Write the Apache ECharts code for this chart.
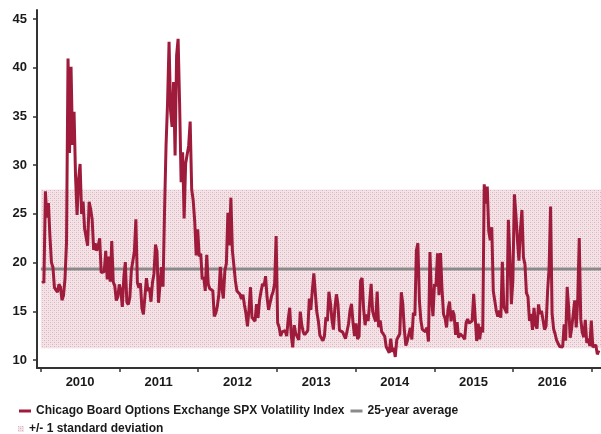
<!DOCTYPE html>
<html><head><meta charset="utf-8">
<script src="https://cdn.jsdelivr.net/npm/echarts@6/dist/echarts.min.js"></script>
<style>html,body{margin:0;padding:0;background:#fff}#c{width:601px;height:434px}</style>
</head><body><div id="c"></div>
<script>
// Weekly (Friday) closes, first week ending 2010-01-08
const firstWeek = [2010, 0, 8];
const vix2010 = [18.13,17.91,27.31,24.62,26.11,22.73,20.02,19.50,17.42,17.58,16.97,17.77,17.47,16.14,16.62,18.36,22.05,40.95,31.24,40.10,32.07,35.48,28.79,24.88,28.53,30.12,24.98,26.25,23.47,23.50,21.74,26.24,25.49,24.45,21.31,21.99,21.21,21.71,22.50,18.96,19.03,19.08,21.20,18.26,20.61,18.04,22.22,18.01,17.61,16.11,16.47,17.75];
const vix2011 = [17.14,15.46,18.47,20.04,15.93,15.69,16.43,19.22,19.06,21.13,24.44,17.91,17.40,17.87,15.32,14.69,14.75,18.40,17.07,17.43,15.98,17.95,18.86,21.85,21.10,15.87,15.95,19.53,17.52,25.25,32.00,36.36,42.67,35.59,33.92,38.52,30.98,41.25,42.96,36.27,28.24,31.32,24.53,30.16,30.04,32.00,34.47,27.52,26.38,24.29,20.73,23.40];
const vix2012 = [20.63,20.91,18.28,18.53,17.10,20.79,17.78,17.31,17.29,17.11,14.47,14.82,15.50,16.70,19.55,17.44,16.32,19.16,19.89,25.10,21.76,26.66,21.23,21.11,18.11,17.08,17.10,16.74,16.27,16.70,15.64,14.74,13.45,15.18,17.47,14.38,14.51,13.98,15.73,14.33,16.14,17.06,17.81,17.59,18.61,16.41,15.14,15.87,16.56,17.00,17.84,22.72];
const vix2013 = [13.83,13.36,12.46,12.89,12.90,13.02,12.46,14.17,15.36,12.59,11.30,13.57,12.70,12.85,12.06,14.97,13.61,12.85,12.59,12.45,13.04,16.30,15.14,17.15,18.90,16.86,14.89,14.01,12.54,12.72,11.98,12.41,14.37,13.98,17.01,15.85,14.16,13.12,15.46,16.74,15.72,13.04,13.09,12.88,12.90,12.19,12.26,13.70,15.08,15.76,13.79,12.46];
const vix2014 = [13.76,12.14,12.44,18.14,18.41,15.29,13.57,14.68,14.00,14.11,17.82,15.00,14.41,13.96,17.03,13.36,14.06,12.91,12.92,12.44,11.36,11.40,10.73,12.18,10.85,11.26,10.32,12.08,12.06,12.69,16.95,15.77,13.15,11.47,11.98,12.09,13.31,12.11,14.85,14.55,21.24,21.99,16.11,14.03,13.12,13.31,12.90,13.33,11.89,21.08,16.49,14.50];
const vix2015 = [17.79,17.55,20.95,16.66,20.97,17.29,14.69,14.30,13.34,15.20,16.00,13.97,15.07,14.67,12.58,13.89,12.29,12.70,12.86,12.38,12.13,13.84,14.21,13.78,13.96,14.02,16.79,16.83,11.95,13.74,12.12,13.39,12.83,28.03,26.05,27.80,23.20,22.28,23.62,17.08,17.08,15.05,14.46,15.07,14.33,20.08,15.47,15.12,14.81,24.39,20.70,15.74,18.21];
const vix2016 = [27.01,24.95,22.34,20.20,23.38,25.40,20.53,19.81,16.86,16.50,14.02,14.74,13.10,15.36,13.62,13.22,15.70,14.72,15.04,15.20,13.12,13.47,17.03,19.41,25.76,14.77,13.20,12.67,12.02,11.87,11.39,11.55,11.34,13.65,11.98,17.50,15.37,12.29,13.29,13.48,16.12,13.34,16.19,22.51,14.17,12.85,12.34,14.12,11.75,12.20,11.44,14.04];
const vix2017 = [11.32,11.23,11.54,10.58,10.97];

const avgValue = 19.35;
const bandLow = 11.2;
const bandHigh = 27.5;
const yTickValues = [10, 15, 20, 25, 30, 35, 40, 45];
const yearTicks = [2010, 2011, 2012, 2013, 2014, 2015, 2016, 2017];
const yearLabels = [2010, 2011, 2012, 2013, 2014, 2015, 2016];

const vixName = 'Chicago Board Options Exchange SPX Volatility Index';
const avgName = '25-year average';
const bandName = '+/- 1 standard deviation';

const vixAll = [].concat(vix2010, vix2011, vix2012, vix2013, vix2014, vix2015, vix2016, vix2017);
const vixData = vixAll.map((v, i) => [+new Date(firstWeek[0], firstWeek[1], firstWeek[2] + 7 * i), v]);

const axisMin = +new Date(2009, 11, 14);
const axisMax = +new Date(2017, 1, 13);
const bandStart = +new Date(2010, 0, 1);
const bandEnd = axisMax;

// dotted pink pattern
const pc = document.createElement('canvas');
pc.width = 4; pc.height = 4;
const g = pc.getContext('2d');
g.fillStyle = '#f4e4e8'; g.fillRect(0, 0, 4, 4);
g.fillStyle = '#dcb0bc'; g.fillRect(0, 0, 1, 1); g.fillRect(2, 2, 1, 1);
g.fillStyle = '#eacfd6'; g.fillRect(2, 0, 1, 1); g.fillRect(0, 2, 1, 1);
const pattern = { image: pc, repeat: 'repeat' };

const FONT = 'Arial, "Liberation Sans", Helvetica, sans-serif';
const axisColor = '#333333';

const chart = echarts.init(document.getElementById('c'), null, { renderer: 'canvas' });
chart.setOption({
  animation: false,
  backgroundColor: '#ffffff',
  grid: { left: 37, right: 0, top: 10, bottom: 66, containLabel: false },
  xAxis: {
    type: 'value',
    min: axisMin,
    max: axisMax,
    axisLine: { show: true, lineStyle: { color: axisColor, width: 2 } },
    axisTick: { show: true, length: 4, lineStyle: { color: axisColor, width: 1.5 },
      customValues: yearTicks.map(y => +new Date(y, 0, 1)) },
    axisLabel: { show: true, margin: 8, color: '#1a1a1a', fontSize: 13, fontWeight: 'bold', fontFamily: FONT,
      customValues: yearLabels.map(y => +new Date(y, 6, 2)),
      formatter: v => String(new Date(v).getFullYear()) },
    splitLine: { show: false }
  },
  yAxis: {
    type: 'value',
    min: 9.18,
    max: 45.92,
    axisLine: { show: true, lineStyle: { color: axisColor, width: 2 } },
    axisTick: { show: true, length: 4, lineStyle: { color: axisColor, width: 1.5 }, customValues: yTickValues },
    axisLabel: { show: true, margin: 10, color: '#1a1a1a', fontSize: 13, fontWeight: 'bold', fontFamily: FONT,
      customValues: yTickValues },
    splitLine: { show: false }
  },
  legend: [
    {
      left: 19, top: 405, orient: 'horizontal', padding: 0,
      itemWidth: 12, itemHeight: 3, itemGap: 6,
      textStyle: { color: '#1a1a1a', fontSize: 12, fontWeight: 'bold', fontFamily: FONT },
      data: [{ name: vixName, icon: 'rect' }, { name: avgName, icon: 'rect' }]
    },
    {
      left: 18, top: 423, orient: 'horizontal', padding: 0,
      itemWidth: 6, itemHeight: 6, itemGap: 6,
      textStyle: { color: '#1a1a1a', fontSize: 12, fontWeight: 'bold', fontFamily: FONT },
      data: [{ name: bandName, icon: 'rect', itemStyle: { color: pattern } }]
    }
  ],
  series: [
    {
      type: 'custom', name: bandName, silent: true,
      itemStyle: { color: pattern },
      data: [[bandStart, bandEnd, bandLow, bandHigh]],
      encode: { x: [0, 1], y: [2, 3] },
      renderItem: function (params, api) {
        const p1 = api.coord([api.value(0), api.value(3)]);
        const p2 = api.coord([api.value(1), api.value(2)]);
        return { type: 'rect', shape: { x: p1[0], y: p1[1], width: p2[0] - p1[0], height: p2[1] - p1[1] },
          style: { fill: pattern } };
      }
    },
    {
      type: 'line', name: avgName, silent: true, symbol: 'none',
      data: [[bandStart, avgValue], [bandEnd, avgValue]],
      itemStyle: { color: '#8a8a8a' },
      lineStyle: { color: '#8a8a8a', width: 3 }
    },
    {
      type: 'line', name: vixName, silent: true, symbol: 'none',
      data: vixData,
      itemStyle: { color: '#9e1b3c' },
      lineStyle: { color: '#9e1b3c', width: 3 }
    }
  ]
});
</script>
</body></html>
